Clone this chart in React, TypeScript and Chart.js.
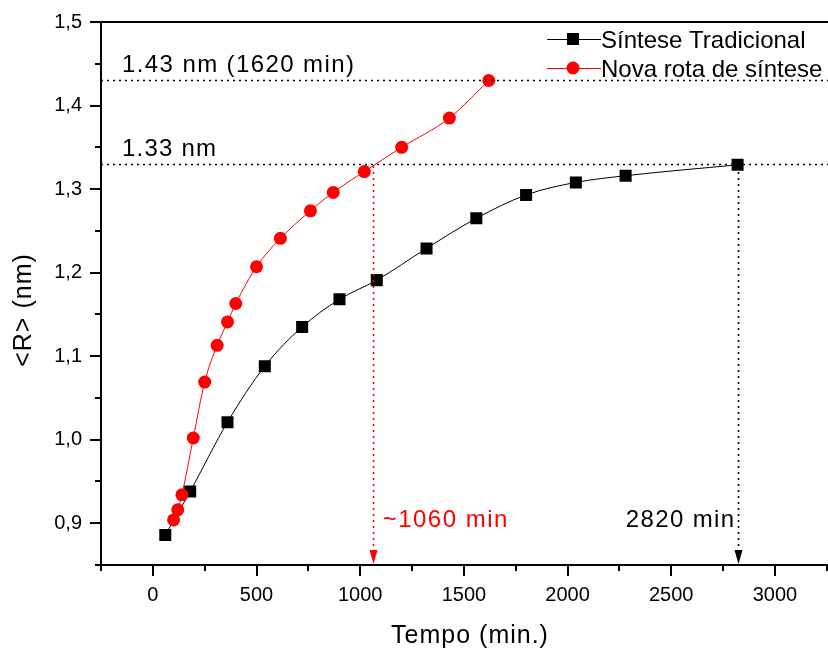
import React, { useEffect, useRef } from 'react';
import { Chart, registerables } from 'chart.js';

Chart.register(...registerables);

// ---- data ----
const tradTime = [60, 180, 360, 540, 720, 900, 1080, 1320, 1560, 1800, 2040, 2280, 2820];
const tradR = [0.886, 0.938, 1.021, 1.088, 1.135, 1.168, 1.191, 1.229, 1.265, 1.293, 1.308, 1.316, 1.329];
const novaTime = [100, 120, 140, 195, 250, 310, 360, 400, 500, 615, 760, 870, 1020, 1200, 1430, 1620];
const novaR = [0.904, 0.916, 0.934, 1.002, 1.069, 1.113, 1.141, 1.163, 1.207, 1.241, 1.274, 1.296, 1.321, 1.35, 1.385, 1.43];
const xTicks = [0, 500, 1000, 1500, 2000, 2500, 3000];
const xMinorTicks = [-250, 250, 750, 1250, 1750, 2250, 2750, 3250];
const yTicks = [0.9, 1.0, 1.1, 1.2, 1.3, 1.4, 1.5];
const yMinorTicks = [0.85, 0.95, 1.05, 1.15, 1.25, 1.35, 1.45];
const seriesNames = ['Síntese Tradicional', 'Nova rota de síntese'];
const refLevels = [1.43, 1.33];
const refLabels = ['1.43 nm (1620 min)', '1.33 nm'];
const markTimes = [1060, 2820];
const markLabels = ['~1060 min', '2820 min'];
const xTitle = 'Tempo (min.)';
const yTitle = '<R> (nm)';

const FONT = '"Liberation Sans", Arial, sans-serif';

const decorPlugin = {
  id: 'decor',
  afterDraw(chart: any) {
    const { ctx, chartArea } = chart;
    const xs = chart.scales.x;
    const ys = chart.scales.y;
    const { left, top, bottom } = chartArea;
    ctx.save();

    // reference dotted lines
    ctx.lineWidth = 1.6;
    ctx.setLineDash([2, 4]);
    ctx.strokeStyle = '#000';
    refLevels.forEach((lv) => {
      const y = Math.round(ys.getPixelForValue(lv)) + 0.5;
      ctx.beginPath();
      ctx.moveTo(left, y);
      ctx.lineTo(chart.width, y);
      ctx.stroke();
    });
    const y133 = ys.getPixelForValue(refLevels[1]);
    const markColors = ['#ff0000', '#000000'];
    markTimes.forEach((t, i) => {
      const x = Math.round(xs.getPixelForValue(t)) + 0.5;
      ctx.strokeStyle = markColors[i];
      ctx.setLineDash([2, 4]);
      ctx.beginPath();
      ctx.moveTo(x, y133 + 2);
      ctx.lineTo(x, bottom - 14);
      ctx.stroke();
      ctx.setLineDash([]);
      ctx.fillStyle = markColors[i];
      ctx.beginPath();
      ctx.moveTo(x - 4, bottom - 15);
      ctx.lineTo(x + 4, bottom - 15);
      ctx.lineTo(x, bottom - 1);
      ctx.closePath();
      ctx.fill();
    });
    ctx.setLineDash([]);

    // annotation texts
    ctx.textBaseline = 'alphabetic';
    ctx.font = `24px ${FONT}`;
    ctx.fillStyle = '#000';
    (ctx as any).letterSpacing = '1.4px';
    ctx.textAlign = 'left';
    ctx.fillText(refLabels[0], left + 21, ys.getPixelForValue(refLevels[0]) - 8);
    (ctx as any).letterSpacing = '1.2px';
    ctx.fillText(refLabels[1], left + 21, ys.getPixelForValue(refLevels[1]) - 8);
    (ctx as any).letterSpacing = '1.5px';
    ctx.fillStyle = '#ff0000';
    ctx.fillText(markLabels[0], xs.getPixelForValue(markTimes[0]) + 10, bottom - 38);
    (ctx as any).letterSpacing = '1.4px';
    ctx.fillStyle = '#000';
    ctx.textAlign = 'right';
    ctx.fillText(markLabels[1], xs.getPixelForValue(markTimes[1]) - 2, bottom - 38);

    // axes
    ctx.strokeStyle = '#000';
    ctx.lineWidth = 2;
    ctx.beginPath();
    ctx.moveTo(left, top);
    ctx.lineTo(chart.width, top);
    ctx.moveTo(left, top - 1);
    ctx.lineTo(left, bottom);
    ctx.moveTo(left - 1, bottom);
    ctx.lineTo(chart.width, bottom);
    ctx.stroke();
    // ticks
    ctx.beginPath();
    xTicks.forEach((v) => {
      const x = Math.round(xs.getPixelForValue(v));
      ctx.moveTo(x, bottom);
      ctx.lineTo(x, bottom + 11);
    });
    xMinorTicks.forEach((v) => {
      const x = Math.round(xs.getPixelForValue(v));
      if (x > chart.width) return;
      ctx.moveTo(x, bottom);
      ctx.lineTo(x, bottom + 6);
    });
    yTicks.forEach((v) => {
      const y = Math.round(ys.getPixelForValue(v));
      ctx.moveTo(left, y);
      ctx.lineTo(left - 11, y);
    });
    yMinorTicks.forEach((v) => {
      const y = Math.round(ys.getPixelForValue(v));
      ctx.moveTo(left, y);
      ctx.lineTo(left - 6, y);
    });
    ctx.stroke();

    // axis titles
    ctx.fillStyle = '#000';
    ctx.font = `25px ${FONT}`;
    (ctx as any).letterSpacing = '1px';
    ctx.textAlign = 'center';
    ctx.textBaseline = 'alphabetic';
    ctx.fillText(xTitle, 470, 643);
    ctx.save();
    ctx.translate(31, 310);
    ctx.rotate(-Math.PI / 2);
    ctx.fillText(yTitle, 0, 0);
    ctx.restore();

    // legend
    (ctx as any).letterSpacing = '0px';
    ctx.font = `24px ${FONT}`;
    ctx.textAlign = 'left';
    const legendRows = [39, 68];
    const legendColors = ['#000000', '#ff0000'];
    legendRows.forEach((ly, i) => {
      ctx.strokeStyle = legendColors[i];
      ctx.lineWidth = 1;
      ctx.beginPath();
      ctx.moveTo(547, ly + 0.5);
      ctx.lineTo(601, ly + 0.5);
      ctx.stroke();
      ctx.fillStyle = legendColors[i];
      if (i === 0) {
        ctx.fillRect(567, ly - 6, 12, 12);
      } else {
        ctx.beginPath();
        ctx.arc(573, ly, 6.5, 0, Math.PI * 2);
        ctx.fill();
      }
      ctx.fillStyle = '#000';
      ctx.fillText(seriesNames[i], 601, ly + 8.5);
    });

    ctx.restore();
  },
};

export default function App() {
  const ref = useRef<HTMLCanvasElement | null>(null);
  useEffect(() => {
    if (!ref.current) return;
    const chart = new Chart(ref.current, {
      type: 'line',
      data: {
        datasets: [
          {
            label: seriesNames[1],
            data: novaTime.map((t, i) => ({ x: t, y: novaR[i] })),
            borderColor: '#ff0000',
            backgroundColor: '#ff0000',
            borderWidth: 1,
            pointStyle: 'circle',
            pointRadius: 6.5,
            pointBorderWidth: 0,
            cubicInterpolationMode: 'monotone',
            order: 1,
          },
          {
            label: seriesNames[0],
            data: tradTime.map((t, i) => ({ x: t, y: tradR[i] })),
            borderColor: '#000000',
            backgroundColor: '#000000',
            borderWidth: 1,
            pointStyle: 'rect',
            pointRadius: 8.5,
            pointBorderWidth: 0,
            cubicInterpolationMode: 'monotone',
            order: 2,
          },
        ],
      },
      options: {
        responsive: false,
        animation: false,
        devicePixelRatio: 1,
        layout: { padding: { top: 22, left: 0, right: 0, bottom: 0 } },
        plugins: { legend: { display: false }, tooltip: { enabled: false } },
        scales: {
          x: {
            type: 'linear',
            min: -250,
            max: 3215,
            grid: { display: false, drawTicks: true, tickLength: 18 },
            border: { display: false },
            ticks: {
              padding: 0,
              color: '#000',
              font: { size: 20, family: FONT },
              maxRotation: 0,
              autoSkip: false,
              callback: (v: any) => String(v),
            },
            afterBuildTicks: (s: any) => {
              s.ticks = xTicks.map((v) => ({ value: v }));
            },
            afterFit: (s: any) => {
              s.height = 84;
            },
          },
          y: {
            type: 'linear',
            min: 0.85,
            max: 1.5,
            grid: { display: false, drawTicks: true, tickLength: 19 },
            border: { display: false },
            ticks: {
              padding: 0,
              color: '#000',
              font: { size: 20, family: FONT },
              callback: (v: any) => Number(v).toFixed(1).replace('.', ','),
            },
            afterBuildTicks: (s: any) => {
              s.ticks = yTicks.map((v) => ({ value: v }));
            },
            afterFit: (s: any) => {
              s.width = 101;
            },
          },
        },
      },
      plugins: [decorPlugin],
    } as any);
    return () => chart.destroy();
  }, []);
  return (
    <div style={{ position: 'fixed', left: 0, top: 0, width: 828, height: 649, background: '#fff' }}>
      <canvas ref={ref} width={828} height={649} />
    </div>
  );
}
